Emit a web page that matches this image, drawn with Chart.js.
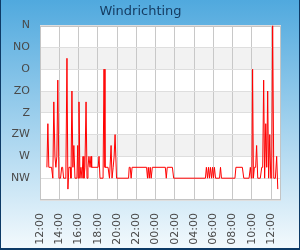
<!DOCTYPE html>
<html>
<head>
<meta charset="utf-8">
<script src="https://cdn.jsdelivr.net/npm/chart.js@4"></script>
<style>
  html, body { margin: 0; padding: 0; }
  #wrap {
    position: relative;
    width: 300px;
    height: 250px;
    background: linear-gradient(to bottom, #50a9de 0%, #f4fafd 100%);
  }
  #chart { position: absolute; left: 0; top: 0; }
  #frame {
    position: absolute;
    left: 0; top: 0;
    width: 300px; height: 250px;
    box-sizing: border-box;
    border-left: 1px solid #0d3a66;
    border-right: 1px solid #0d3a66;
    border-bottom: 2px solid #0d3a66;
    pointer-events: none;
  }
</style>
</head>
<body>
<div id="wrap"><canvas id="chart" width="300" height="250"></canvas><div id="frame"></div></div>
<script>
// ── Data (minutes since 12:00, wind direction in degrees) ──
const timeMinutes = [
  43, 49, 55, 72, 80, 86, 93, 99, 105, 111, 118, 128, 135, 141, 147, 161,
  168, 174, 180, 189, 193, 199, 205, 211, 218, 230, 235, 238, 243, 249, 255,
  262, 268, 274, 280, 287, 293, 299, 305, 312, 318, 322, 362, 368, 374, 393,
  399, 405, 424, 433, 443, 449, 456, 462, 468, 477, 552, 556, 562, 568, 574,
  664, 670, 675, 681, 687, 693, 700, 781, 787, 793, 825, 833, 1031, 1037,
  1044, 1050, 1056, 1062, 1069, 1075, 1081, 1087, 1094, 1119, 1125, 1131,
  1215, 1221, 1261, 1270, 1303, 1311, 1317, 1321, 1325, 1330, 1336, 1344,
  1350, 1357, 1373, 1382, 1388, 1394, 1400, 1407, 1413, 1419, 1425, 1432,
  1438, 1444, 1450, 1457, 1467, 1475, 1482
];
const directionDeg = [
  292.5, 202.5, 292.5, 292.5, 315, 157.5, 270, 292.5, 270, 112.5, 315, 315, 292.5, 292.5, 315, 315,
  67.5, 337.5, 292.5, 292.5, 315, 135, 292.5, 247.5, 315, 315, 247.5, 315, 157.5, 315, 292.5,
  315, 270, 315, 292.5, 157.5, 315, 292.5, 270, 292.5, 270, 292.5, 292.5, 270, 315, 315,
  90, 292.5, 292.5, 315, 247.5, 315, 292.5, 270, 225, 315, 315, 292.5, 292.5, 315, 292.5,
  292.5, 315, 292.5, 315, 292.5, 315, 292.5, 292.5, 315, 292.5, 292.5, 315, 315, 292.5,
  315, 292.5, 315, 292.5, 315, 292.5, 315, 292.5, 315, 315, 292.5, 315,
  315, 292.5, 292.5, 315, 315, 292.5, 315, 292.5, 90, 315, 292.5, 292.5,
  247.5, 315, 315, 292.5, 292.5, 112.5, 315, 202.5, 292.5, 135, 315, 225,
  315, 315, 0, 315, 315, 270, 337.5
];
const directionLabels = ['N', 'NO', 'O', 'ZO', 'Z', 'ZW', 'W', 'NW', ''];
const hourLabels = ['12:00', '14:00', '16:00', '18:00', '20:00', '22:00', '00:00',
  '02:00', '04:00', '06:00', '08:00', '10:00', '12:00'];
const shadedBands = [[45, 90], [135, 180], [225, 270]];

// ── Plot background + bands ───────────────────────────────
const plotBackground = {
  id: 'plotBackground',
  beforeDraw(chart) {
    const { ctx, chartArea: a, scales } = chart;
    ctx.save();
    ctx.fillStyle = '#ffffff';
    ctx.fillRect(a.left, a.top, a.right - a.left, a.bottom - a.top);
    ctx.fillStyle = '#f2f2f2';
    shadedBands.forEach(([from, to]) => {
      const y1 = scales.y.getPixelForValue(from);
      const y2 = scales.y.getPixelForValue(to);
      ctx.fillRect(a.left, Math.min(y1, y2), a.right - a.left, Math.abs(y2 - y1));
    });
    ctx.restore();
  },
  beforeDatasetsDraw(chart) {
    const { ctx, chartArea: a } = chart;
    ctx.save();
    ctx.strokeStyle = '#c4c4c4';
    ctx.lineWidth = 1;
    ctx.strokeRect(Math.round(a.left) + 0.5, Math.round(a.top) + 0.5,
      Math.round(a.right - a.left) - 1, Math.round(a.bottom - a.top) - 1);
    ctx.restore();
  },
};

const tickFont = { family: 'DejaVu Sans', size: 11 };

new Chart(document.getElementById('chart'), {
  type: 'line',
  data: {
    datasets: [{
      label: 'Windrichting',
      data: timeMinutes.map((m, i) => ({ x: m, y: directionDeg[i] })),
      borderColor: '#ff0000',
      borderWidth: 1,
      pointRadius: 0,
      tension: 0,
      fill: false,
    }],
  },
  options: {
    responsive: false,
    animation: false,
    layout: { padding: { left: 0, right: 19, bottom: 0, top: 0 } },
    plugins: {
      legend: { display: false },
      tooltip: { enabled: false },
      title: {
        display: true,
        text: 'Windrichting',
        color: '#163d63',
        font: { family: 'DejaVu Sans', size: 13, weight: 'normal' },
        padding: { top: 4, bottom: 6 },
      },
    },
    scales: {
      x: {
        type: 'linear',
        min: 0,
        max: 1502,
        afterBuildTicks: (s) => {
          s.ticks = hourLabels.map((_, i) => ({ value: i * 120 }));
        },
        afterFit: (s) => { s.height = 50; },
        grid: { color: '#c8c8c8', drawTicks: false },
        border: { display: false },
        ticks: {
          autoSkip: false,
          minRotation: 90,
          maxRotation: 90,
          padding: 13,
          color: '#4a4a4a',
          font: tickFont,
          callback: (v) => hourLabels[Math.round(v / 120)],
        },
      },
      y: {
        reverse: true,
        min: 0,
        max: 360,
        afterBuildTicks: (s) => {
          s.ticks = directionLabels.map((_, i) => ({ value: i * 45 }));
        },
        afterFit: (s) => { s.width = 40; },
        grid: { color: '#dedede', drawTicks: false },
        border: { display: false },
        ticks: {
          padding: 10,
          color: '#4a4a4a',
          font: tickFont,
          callback: (v) => directionLabels[Math.round(v / 45)],
        },
      },
    },
  },
  plugins: [plotBackground],
});
</script>
</body>
</html>
